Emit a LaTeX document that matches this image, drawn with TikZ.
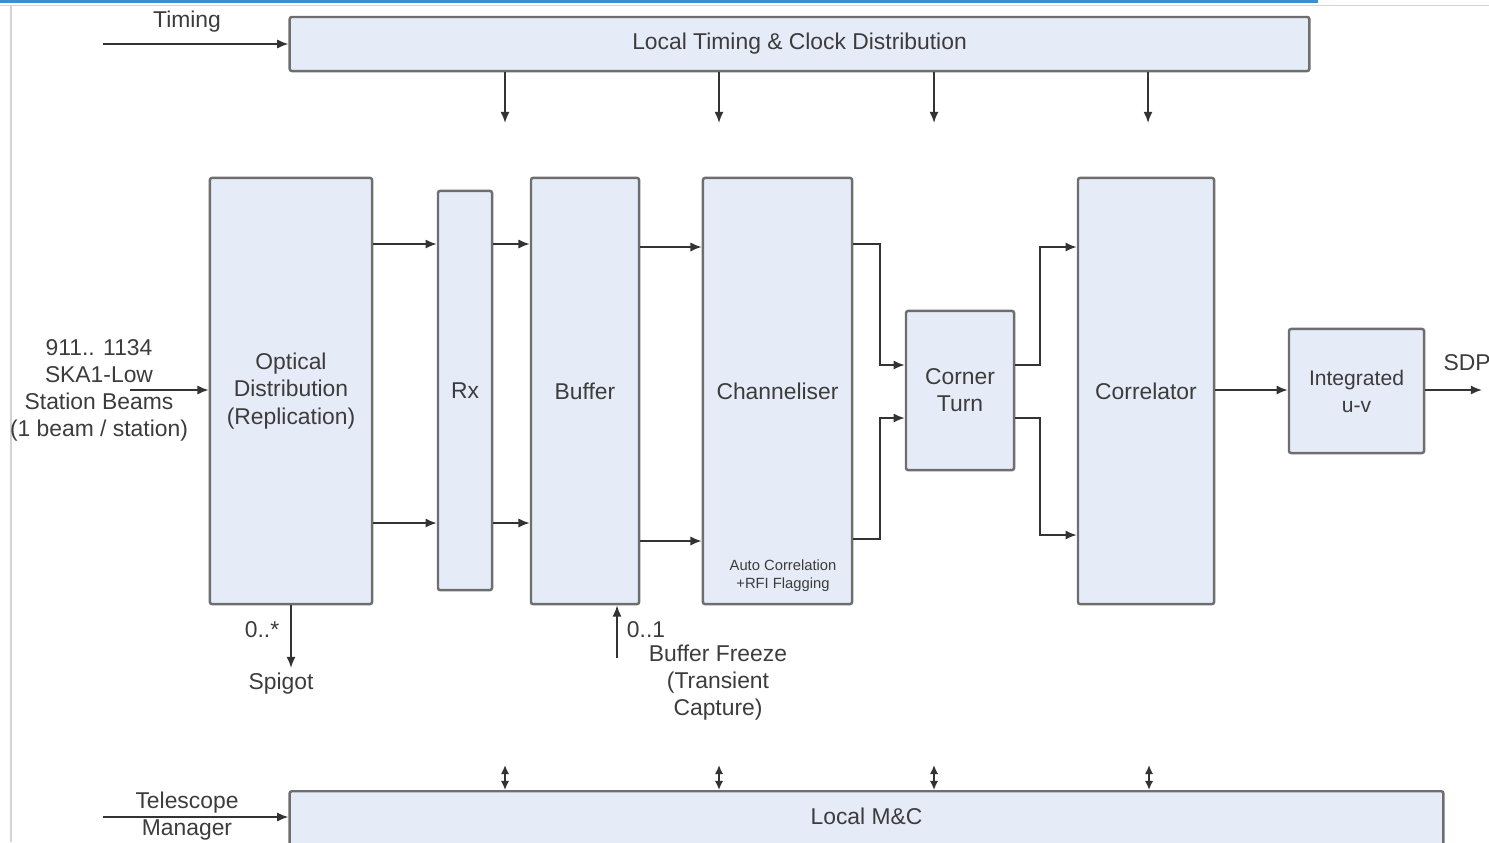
\documentclass[tikz,border=0pt]{standalone}
\usepackage{fontspec}
\setmainfont{Liberation Sans}
\usetikzlibrary{arrows.meta, positioning, calc}
\definecolor{blockfill}{HTML}{E6ECF7}
\definecolor{blockline}{HTML}{6E6E6E}
\definecolor{labelgrey}{HTML}{3C3C3C}
\definecolor{framegrey}{HTML}{D4D4D4}
\definecolor{frameblue}{HTML}{3C8FD2}
\tikzset{
  % Processing blocks
  block/.style={draw=blockline, fill=blockfill, line width=0.7pt, rounded corners=0.6pt, align=center, inner sep=0pt, text=labelgrey, font=\fontsize{6.5}{7.7}\selectfont},
  % Free text
  tag/.style={align=center, inner sep=0pt, text=labelgrey, font=\fontsize{6.5}{7.7}\selectfont},
  smalltag/.style={align=center, inner sep=0pt, text=labelgrey, font=\fontsize{4.2}{5.2}\selectfont},
  % Pointers
  flowpointer/.style={-{Latex[length=3.2pt, width=2.6pt]}, line width=0.5pt, draw=black!80},
  dualpointer/.style={{Latex[length=2.6pt, width=2.4pt]}-{Latex[length=2.6pt, width=2.4pt]}, line width=0.5pt, draw=black!80},
}

\begin{document}
\begin{tikzpicture}[x=0.01cm, y=-0.01cm]
  \useasboundingbox (0,0) rectangle (1489,842);

  % screenshot frame
  \fill[frameblue] (0,0) rectangle (1318,3);
  \draw[framegrey, line width=0.4pt] (0,5.5) -- (1489,5.5);
  \draw[framegrey, line width=0.4pt] (11,5.5) -- (11,842);

  % blocks
  \node[block, minimum width=10.19cm, minimum height=0.54cm] (timing) at (799.5,44) {Local Timing \& Clock Distribution};
  \node[block, minimum width=1.62cm, minimum height=4.26cm] (optical) at (291,391) {Optical\\Distribution\\(Replication)};
  \node[block, minimum width=0.54cm, minimum height=3.99cm] (rx) at (465,390.5) {Rx};
  \node[block, minimum width=1.08cm, minimum height=4.26cm] (buffer) at (585,391) {Buffer};
  \node[block, minimum width=1.49cm, minimum height=4.26cm] (chan) at (777.5,391) {Channeliser};
  \node[block, minimum width=1.08cm, minimum height=1.59cm] (corner) at (960,390.5) {Corner\\Turn};
  \node[block, minimum width=1.36cm, minimum height=4.26cm] (correl) at (1146,391) {Correlator};
  \node[block, minimum width=1.35cm, minimum height=1.24cm, font=\fontsize{6}{7.7}\selectfont] (intuv) at (1356.5,391) {Integrated\\u-v};
  \node[block, minimum width=11.53cm, minimum height=1.04cm, anchor=north,
        label={[tag, anchor=center, yshift=-0.26cm]north:Local M\&C}] (mc) at (866.5,790) {};

  \node[smalltag] (autocorr) at (783,576) {Auto Correlation\\+RFI Flagging};

  % outside labels
  \node[tag] (timinglbl) at (187,22) {Timing};
  \node[tag] (beams) at (99,390) {911.. 1134\\SKA1-Low\\Station Beams\\(1 beam / station)};
  \node[tag] (spigotmult) at (262,630) {0..*};
  \node[tag] (spigot) at (281,684) {Spigot};
  \node[tag] (freezemult) at (646,630) {0..1};
  \node[tag] (freeze) at (718,683) {Buffer Freeze\\(Transient\\Capture)};
  \node[tag] (sdp) at (1467,363) {SDP};
  \node[tag] (tmtop) at (187,803) {Telescope};
  \node[tag] (tmbot) at (187,830) {Manager};

  \coordinate (timingin) at (103,44);
  \coordinate (beamsin) at (130,390);
  \coordinate (freezein) at (617,658);
  \coordinate (sdpout) at (1482,390);
  \coordinate (tmin) at (103,817);

  % timing and control
  \draw[flowpointer] (timingin) -- (timing.west);
  \foreach \x in {505,719,934,1148} {
    \coordinate (tap) at (\x,123);
    \draw[flowpointer] (timing.south -| tap) -- (tap);
  }
  \foreach \x in {505,719,934,1149} {
    \coordinate (mctap) at (\x,765);
    \draw[dualpointer] (mctap) -- (mctap |- mc.north);
  }
  \draw[flowpointer] (tmin) -- (tmin -| mc.west);

  % data path
  \draw[flowpointer] (beamsin) -- (beamsin -| optical.west);
  \draw[flowpointer] (optical.east |- 0,244) -- (rx.west |- 0,244);
  \draw[flowpointer] (optical.east |- 0,523) -- (rx.west |- 0,523);
  \draw[flowpointer] (rx.east |- 0,244) -- (buffer.west |- 0,244);
  \draw[flowpointer] (rx.east |- 0,523) -- (buffer.west |- 0,523);
  \draw[flowpointer] (buffer.east |- 0,247) -- (chan.west |- 0,247);
  \draw[flowpointer] (buffer.east |- 0,541) -- (chan.west |- 0,541);
  \draw[flowpointer] (chan.east |- 0,244) -| (880,365) -- (corner.west |- 0,365);
  \draw[flowpointer] (chan.east |- 0,539) -| (880,418) -- (corner.west |- 0,418);
  \draw[flowpointer] (corner.east |- 0,365) -| (1040,247) -- (correl.west |- 0,247);
  \draw[flowpointer] (corner.east |- 0,418) -| (1040,535) -- (correl.west |- 0,535);
  \draw[flowpointer] (correl.east |- 0,390) -- (intuv.west |- 0,390);
  \draw[flowpointer] (intuv.east |- 0,390) -- (sdpout);

  % spigot and buffer freeze
  \draw[flowpointer] (optical.south) -- (optical.south |- 0,668);
  \draw[flowpointer] (freezein) -- (freezein |- buffer.south);

\end{tikzpicture}
\end{document}
